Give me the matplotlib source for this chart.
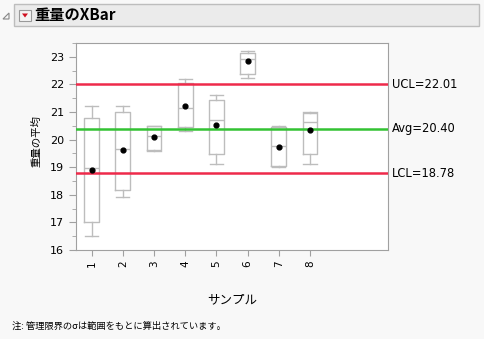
import numpy as np
import matplotlib
matplotlib.use('Agg')
import matplotlib.pyplot as plt
from matplotlib.patches import Rectangle, Polygon
from matplotlib.ticker import MultipleLocator

plt.rcParams['font.family'] = ['DejaVu Sans', 'Noto Sans CJK JP']

samples = [1, 2, 3, 4, 5, 6, 7, 8]
whislo = [16.50, 17.91, 19.60, 20.30, 19.10, 22.22, 19.00, 19.10]
q1 = [17.00, 18.16, 19.62, 20.44, 19.47, 22.37, 19.05, 19.47]
med = [18.96, 19.66, 20.12, 21.16, 20.70, 22.91, 19.77, 20.65]
q3 = [20.77, 20.99, 20.48, 22.04, 21.42, 23.15, 20.47, 20.95]
whishi = [21.21, 21.20, 20.50, 22.21, 21.60, 23.22, 20.50, 21.01]
means = [18.91, 19.62, 20.09, 21.23, 20.54, 22.84, 19.75, 20.35]

ucl = 22.01
avg = 20.40
lcl = 18.78

bg = '#f8f8f8'
fig = plt.figure(figsize=(4.84, 3.39), dpi=100, facecolor=bg)

# header bar
fig.patches.append(Rectangle((14/484, 1-26/339), 465/484, 22/339, transform=fig.transFigure,
                             facecolor='#ebebeb', edgecolor='#bdbdbd', lw=1))
fig.patches.append(Polygon([[3/484, 1-19/339], [9/484, 1-13/339], [9/484, 1-19/339]],
                           closed=True, transform=fig.transFigure,
                           facecolor='none', edgecolor='#888888', lw=0.8))
fig.patches.append(Rectangle((19/484, 1-21/339), 12/484, 11/339, transform=fig.transFigure,
                             facecolor='#f4f4f4', edgecolor='#999999', lw=0.8))
fig.patches.append(Polygon([[22/484, 1-13.5/339], [28/484, 1-13.5/339], [25/484, 1-17.5/339]],
                           closed=True, transform=fig.transFigure,
                           facecolor='#d01020', edgecolor='none'))
fig.text(34/484, 1-15/339, '重量のXBar', fontsize=11, fontweight='bold', va='center', ha='left',
         family=['Noto Sans CJK JP', 'DejaVu Sans'])

ax = fig.add_axes([76/484, 1-250/339, 312/484, 207/339])
ax.set_facecolor('white')

stats = []
for i in range(len(samples)):
    stats.append({'whislo': whislo[i], 'q1': q1[i], 'med': med[i], 'q3': q3[i],
                  'whishi': whishi[i], 'fliers': []})
grey = '#bdbdbd'
ax.bxp(stats, positions=samples, widths=0.48, capwidths=0.42, showfliers=False,
       boxprops=dict(color=grey, lw=1), whiskerprops=dict(color=grey, lw=1),
       capprops=dict(color=grey, lw=1), medianprops=dict(color=grey, lw=1),
       manage_ticks=False)
ax.scatter(samples, means, s=12, color='black', zorder=5)

ax.axhline(ucl, color='#ee2a4a', lw=1.8, zorder=3)
ax.axhline(lcl, color='#ee2a4a', lw=1.8, zorder=3)
ax.axhline(avg, color='#33c233', lw=1.8, zorder=3)

ytr = ax.get_yaxis_transform()
ax.text(1.012, ucl, 'UCL=%.2f' % ucl, transform=ytr, va='center', fontsize=8.3)
ax.text(1.012, avg, 'Avg=%.2f' % avg, transform=ytr, va='center', fontsize=8.3)
ax.text(1.012, lcl, 'LCL=%.2f' % lcl, transform=ytr, va='center', fontsize=8.3)

ax.set_xlim(0.5, 10.5)
ax.set_ylim(16, 23.5)
ax.set_xticks(samples)
ax.set_xticklabels([str(s) for s in samples], rotation=90)
ax.yaxis.set_major_locator(MultipleLocator(1))
ax.yaxis.set_minor_locator(MultipleLocator(0.5))
for sp in ax.spines.values():
    sp.set_color('#a0a0a0')
ax.tick_params(axis='both', which='both', color='#a0a0a0', labelsize=7.5)
ax.tick_params(axis='y', which='major', length=5, labelsize=8)
ax.tick_params(axis='y', which='minor', length=3)
ax.tick_params(axis='x', length=4)

ax.set_ylabel('重量の平均', fontsize=7.5, family=['Noto Sans CJK JP', 'DejaVu Sans'])
ax.yaxis.set_label_coords(-0.112, 0.527)
fig.text(232/484, 1-300/339, 'サンプル', fontsize=9, ha='center', va='center',
         family=['Noto Sans CJK JP', 'DejaVu Sans'])
fig.text(12/484, 1-326/339, '注: 管理限界のσは範囲をもとに算出されています。', fontsize=6.7,
         ha='left', va='center', family=['Noto Sans CJK JP', 'DejaVu Sans'])

fig.savefig('out.png', dpi=100, facecolor=bg)
